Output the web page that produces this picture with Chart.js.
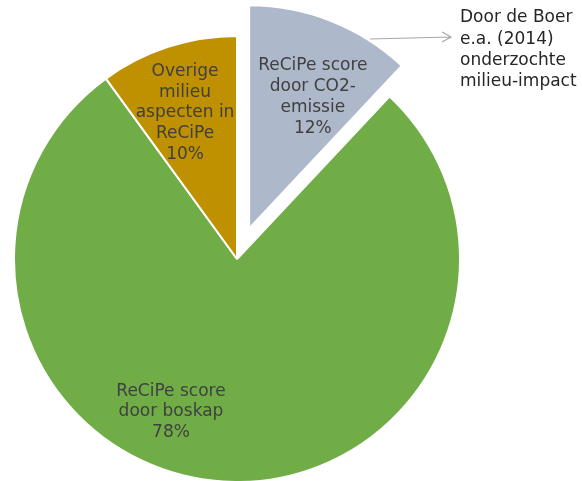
<!DOCTYPE html>
<html>
<head>
<meta charset="utf-8">
<script src="https://cdn.jsdelivr.net/npm/chart.js@4"></script>
<style>
  html, body { margin: 0; padding: 0; background: #fff; }
  #wrap { width: 582px; height: 481px; }
</style>
</head>
<body>
<div id="wrap"><canvas id="pieChart" width="582" height="481"></canvas></div>
<script>
// data
const categories = ["ReCiPe score door CO2-emissie", "ReCiPe score door boskap", "Overige milieu aspecten in ReCiPe"];
const shares = [12, 78, 10];
const sliceLabels = [
    ["ReCiPe score", "door CO2-", "emissie"],
    ["ReCiPe score", "door boskap"],
    ["Overige", "milieu", "aspecten in", "ReCiPe"]
];
const noteLines = ["Door de Boer", "e.a. (2014)", "onderzochte", "milieu-impact"];

const colors = ["#ADB9CA", "#70AD47", "#BF9000"];
// pull-out distance per slice (px), without growing the slice
const explode = [33, 0, 0];
// label anchor, as fraction of radius from the pie centre
const labelPos = [[0.34, -0.726], [-0.296, 0.686], [-0.233, -0.655]];

const FONT = "17px 'DejaVu Sans'";

// shift exploded slices by wrapping the arc's draw
const explodePlugin = {
    id: "explode",
    beforeDatasetsDraw(chart) {
        chart.getDatasetMeta(0).data.forEach((arc, i) => {
            if (!explode[i] || arc._wrapped) return;
            const orig = arc.draw;
            arc.draw = function (ctx) {
                const h = (this.startAngle + this.endAngle) / 2;
                ctx.save();
                ctx.translate(Math.cos(h) * explode[i], Math.sin(h) * explode[i]);
                orig.call(this, ctx);
                ctx.restore();
            };
            arc._wrapped = true;
        });
    }
};

const labelPlugin = {
    id: "sliceLabels",
    afterDatasetsDraw(chart) {
        const ctx = chart.ctx;
        const arcs = chart.getDatasetMeta(0).data;
        ctx.save();
        ctx.font = FONT;
        ctx.fillStyle = "#404040";
        ctx.textAlign = "center";
        ctx.textBaseline = "middle";
        arcs.forEach((arc, i) => {
            const lines = sliceLabels[i].concat([shares[i] + "%"]);
            const cx = arc.x + labelPos[i][0] * arc.outerRadius;
            const cy = arc.y + labelPos[i][1] * arc.outerRadius;
            const lh = 20.7;
            const top = cy - (lines.length - 1) * lh / 2;
            lines.forEach((l, j) => ctx.fillText(l, cx, top + j * lh));
        });

        // annotation with arrow
        const c = arcs[0];
        const x0 = c.x + 133, y0 = c.y - 220;
        const x1 = c.x + 214, y1 = c.y - 222;
        ctx.strokeStyle = "#A6A6A6";
        ctx.lineWidth = 1.2;
        ctx.beginPath();
        ctx.moveTo(x0, y0);
        ctx.lineTo(x1, y1);
        ctx.moveTo(x1 - 9, y1 - 5);
        ctx.lineTo(x1, y1);
        ctx.lineTo(x1 - 9, y1 + 5);
        ctx.stroke();

        ctx.fillStyle = "#262626";
        ctx.textAlign = "left";
        noteLines.forEach((l, j) => ctx.fillText(l, c.x + 223, c.y - 241 + j * 21.3));
        ctx.restore();
    }
};

const chart = new Chart(document.getElementById("pieChart"), {
    type: "pie",
    data: {
        labels: categories,
        datasets: [{
            data: shares,
            backgroundColor: colors,
            borderColor: "#ffffff",
            borderWidth: 2,
            clip: false
        }]
    },
    options: {
        responsive: false,
        animation: false,
        radius: 223,
        layout: { padding: { left: 0, right: 108, top: 37, bottom: 0 } },
        plugins: {
            legend: { display: false },
            tooltip: { enabled: false }
        }
    },
    plugins: [explodePlugin, labelPlugin]
});
chart.draw();
</script>
</body>
</html>
